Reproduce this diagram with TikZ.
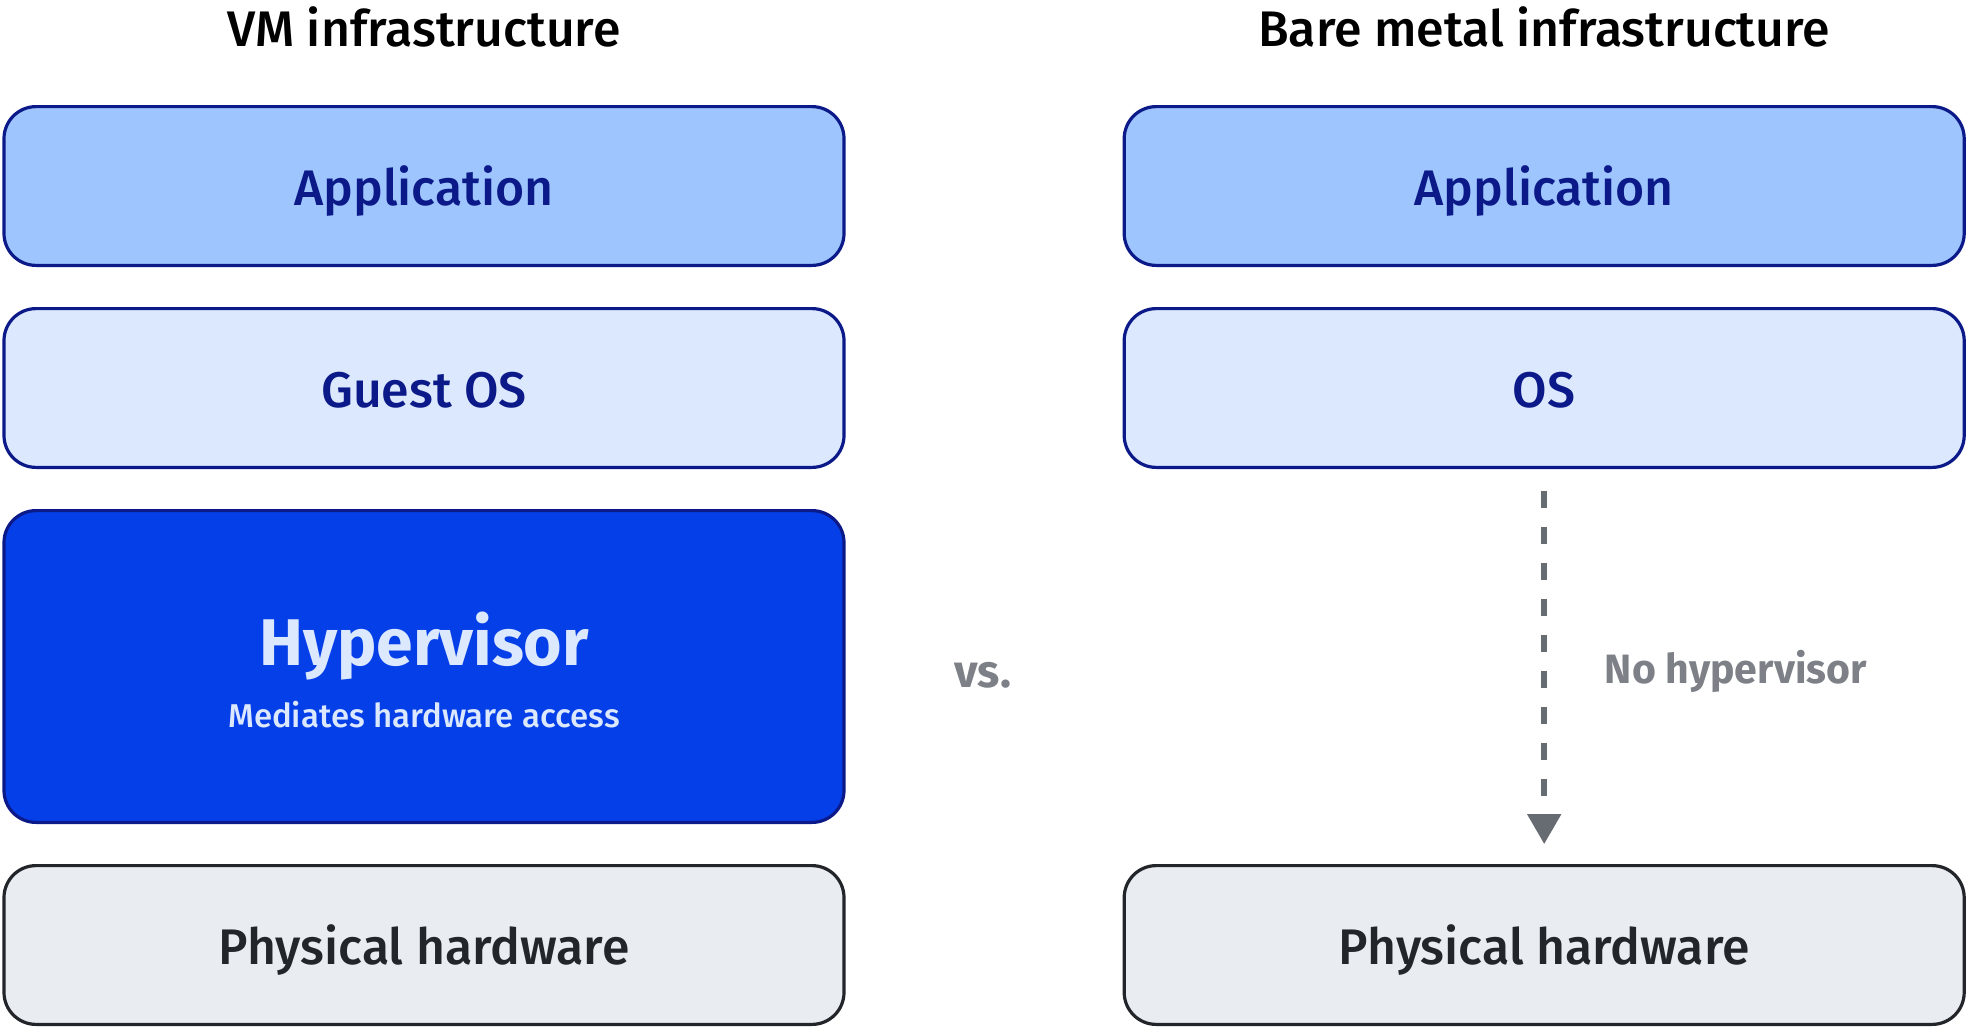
\documentclass[tikz,border=0pt]{standalone}
\usepackage{fontspec}
\setmainfont{Fira Sans}[UprightFont={Fira Sans Medium}, BoldFont={Fira Sans Bold}]
\usetikzlibrary{arrows.meta,positioning}
\definecolor{navy}{HTML}{0B1A88}
\definecolor{appblue}{HTML}{9EC5FE}
\definecolor{osblue}{HTML}{DBE8FE}
\definecolor{hypblue}{HTML}{053FE8}
\definecolor{hwgray}{HTML}{E9EDF2}
\definecolor{hwline}{HTML}{222529}
\definecolor{midgray}{HTML}{7D8087}
\definecolor{arrgray}{HTML}{676B72}

\begin{document}
\begin{tikzpicture}[
  every node/.style={font=\fontsize{25}{29}\selectfont},
  layer/.style={draw=navy, line width=1.6pt, rounded corners=16pt, minimum width=420pt, minimum height=79.4pt, inner sep=0pt, text height=19.5pt, text depth=0pt, text=navy},
  app/.style={layer, fill=appblue},
  os/.style={layer, fill=osblue},
  hyp/.style={layer, fill=hypblue, minimum height=155.9pt},
  hw/.style={layer, draw=hwline, fill=hwgray, text=hwline},
  head/.style={inner sep=0pt, text=black},
  hyptitle/.style={inner sep=0pt, text=osblue, font=\fontsize{33}{38}\selectfont\bfseries},
  hypsub/.style={inner sep=0pt, text=osblue, font=\fontsize{16.5}{19}\selectfont},
  vslab/.style={inner sep=0pt, text=midgray, font=\fontsize{23}{27}\selectfont\bfseries},
  nolab/.style={inner sep=0pt, text height=14.3pt, text depth=0pt, text=midgray, font=\fontsize{20.5}{24}\selectfont\bfseries},
  noarr/.style={draw=arrgray, line width=2.75pt, dash pattern=on 8.5pt off 9.5pt, -{Triangle[width=16.5pt,length=15pt]}}
]
\useasboundingbox (0,0) rectangle (983pt,-514pt);
% VM stack
\node[app] (app1) at (212pt,-93pt) {Application};
\node[os, below=20pt of app1] (os1) {Guest OS};
\node[hyp, below=20pt of os1] (hyp1) {};
\node[hw, below=20pt of hyp1] (hw1) {Physical hardware};
\node[head, above=28.5pt of app1] (title1) {VM infrastructure};
\node[hyptitle, anchor=base] (hyptxt) at ([yshift=0.75pt]hyp1.center) {Hypervisor};
\node[hypsub, anchor=base] (hypsubtxt) at ([yshift=-31pt]hyptxt.base) {Mediates hardware access};
% bare metal stack
\node[app, right=138.5pt of app1] (app2) {Application};
\node[os, below=20pt of app2] (os2) {OS};
\node[hw, right=138.5pt of hw1] (hw2) {Physical hardware};
\node[head, above=28.5pt of app2] (title2) {Bare metal infrastructure};
\node[vslab, anchor=base] (vs) at (491.5pt,-343.5pt) {vs.};
\draw[noarr, shorten <=11pt, shorten >=10pt] (os2) -- (hw2)
  node[nolab, midway, right=29pt, yshift=-1.5pt] (nohyp) {No hypervisor};
\end{tikzpicture}
\end{document}
